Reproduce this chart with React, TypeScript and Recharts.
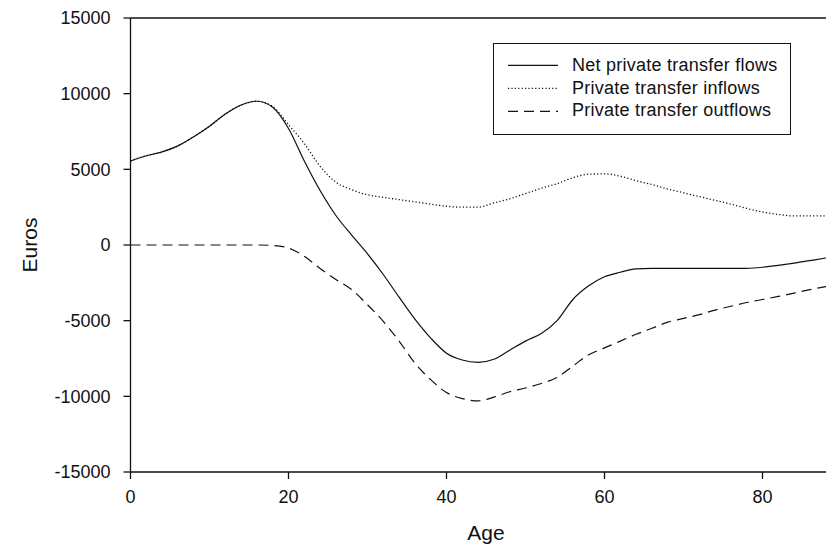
import React from "react";
import { LineChart, Line, XAxis, YAxis, Legend, ReferenceLine, Label } from "recharts";

const ages = [0, 2, 4, 6, 8, 10, 12, 14, 16, 18, 20, 22, 24, 26, 28, 30, 32, 34, 36, 38, 40, 42, 44, 46, 48, 50, 52, 54, 56, 58, 60, 62, 64, 66, 68, 70, 72, 74, 76, 78, 80, 82, 84, 86, 88, 90];

const netFlows = [5550, 5900, 6150, 6550, 7150, 7850, 8650, 9250, 9500, 9100, 7700, 5550, 3600, 1950, 650, -580, -1950, -3450, -4900, -6150, -7150, -7600, -7750, -7550, -6950, -6350, -5850, -5000, -3600, -2700, -2100, -1800, -1580, -1540, -1540, -1540, -1540, -1550, -1550, -1540, -1470, -1350, -1200, -1030, -860, -700];

const inflows = [5550, 5900, 6150, 6550, 7150, 7850, 8650, 9250, 9500, 9150, 7950, 6700, 5200, 4150, 3650, 3320, 3150, 3000, 2850, 2700, 2560, 2500, 2500, 2780, 3050, 3400, 3750, 4050, 4450, 4680, 4700, 4550, 4250, 4000, 3700, 3450, 3200, 2950, 2700, 2420, 2180, 2020, 1920, 1920, 1920, 1920];

const outflows = [0, 0, 0, 0, 0, 0, 0, 0, 0, -30, -200, -750, -1550, -2280, -2950, -3950, -5050, -6350, -7800, -8900, -9750, -10150, -10300, -10050, -9700, -9450, -9150, -8750, -8000, -7250, -6800, -6350, -5900, -5500, -5100, -4850, -4600, -4300, -4050, -3800, -3600, -3400, -3180, -2950, -2750, -2550];

const xTicks = [0, 20, 40, 60, 80];
const yTicks = [-15000, -10000, -5000, 0, 5000, 10000, 15000];

const seriesNames = ["Net private transfer flows", "Private transfer inflows", "Private transfer outflows"];

const data = ages.map((age, i) => ({
  age,
  net: netFlows[i],
  inflow: inflows[i],
  outflow: outflows[i],
}));

const FONT = "'Liberation Sans', Arial, sans-serif";
const INK = "#111";

const legendItems = [
  { name: seriesNames[0], dash: undefined as string | undefined },
  { name: seriesNames[1], dash: "1.2 2.2" },
  { name: seriesNames[2], dash: "10 6" },
];

const LegendBox = () => (
  <div
    style={{
      boxSizing: "border-box",
      width: 298,
      height: 92,
      border: `1.5px solid ${INK}`,
      background: "#fff",
      paddingTop: 10,
      fontFamily: FONT,
      fontSize: 18,
      color: INK,
    }}
  >
    {legendItems.map((it) => (
      <div key={it.name} style={{ display: "flex", alignItems: "center", height: 22.8, whiteSpace: "nowrap" }}>
        <svg width={78} height={22.8} style={{ flex: "none" }}>
          <line x1={14} x2={64} y1={11.4} y2={11.4} stroke={INK} strokeWidth={1.2} strokeDasharray={it.dash} />
        </svg>
        <span style={{ letterSpacing: 0.25 }}>{it.name}</span>
      </div>
    ))}
  </div>
);

export default function App() {
  return (
    <div style={{ width: 826, height: 542, overflow: "hidden", background: "#fff" }}>
      <LineChart
        width={860}
        height={542}
        data={data}
        margin={{ top: 10, right: 26.5, bottom: 0, left: 0 }}
      >
        <ReferenceLine y={15000} stroke={INK} strokeWidth={1.3} />
        <XAxis
          dataKey="age"
          type="number"
          domain={[0, 90]}
          ticks={xTicks}
          height={78}
          tickSize={7}
          tickMargin={11}
          axisLine={{ stroke: INK, strokeWidth: 1.3 }}
          tickLine={{ stroke: INK, strokeWidth: 1.3 }}
          tick={{ fill: INK, fontSize: 18, fontFamily: FONT }}
          interval={0}
        >
          <Label
            content={({ viewBox }: any) => (
              <text
                x={viewBox.x + viewBox.width / 2}
                y={viewBox.y + viewBox.height - 10}
                textAnchor="middle"
                fill={INK}
                fontSize={21}
                fontFamily={FONT}
              >
                Age
              </text>
            )}
          />
        </XAxis>
        <YAxis
          type="number"
          domain={[-15000, 15000]}
          ticks={yTicks}
          width={122.5}
          tickSize={7}
          tickMargin={13}
          axisLine={{ stroke: INK, strokeWidth: 1.3 }}
          tickLine={{ stroke: INK, strokeWidth: 1.3 }}
          tick={{ fill: INK, fontSize: 18, fontFamily: FONT }}
          interval={0}
        >
          <Label
            content={({ viewBox }: any) => {
              const cx = viewBox.x + 21;
              const cy = viewBox.y + viewBox.height / 2;
              return (
                <text
                  x={cx}
                  y={cy}
                  transform={`rotate(-90, ${cx}, ${cy})`}
                  textAnchor="middle"
                  dominantBaseline="central"
                  fill={INK}
                  fontSize={21}
                  fontFamily={FONT}
                >
                  Euros
                </text>
              );
            }}
          />
        </YAxis>
        <Legend
          layout="vertical"
          align="center"
          verticalAlign="middle"
          content={() => <LegendBox />}
          wrapperStyle={{ position: "absolute", left: 485, top: 35, width: 298, height: 92 }}
        />
        <Line
          type="monotone"
          dataKey="inflow"
          name={seriesNames[1]}
          stroke={INK}
          strokeWidth={1.3}
          strokeDasharray="1.2 2.2"
          dot={false}
          isAnimationActive={false}
        />
        <Line
          type="monotone"
          dataKey="outflow"
          name={seriesNames[2]}
          stroke={INK}
          strokeWidth={1.2}
          strokeDasharray="10 6"
          dot={false}
          isAnimationActive={false}
        />
        <Line
          type="monotone"
          dataKey="net"
          name={seriesNames[0]}
          stroke={INK}
          strokeWidth={1.2}
          dot={false}
          isAnimationActive={false}
        />
      </LineChart>
    </div>
  );
}
